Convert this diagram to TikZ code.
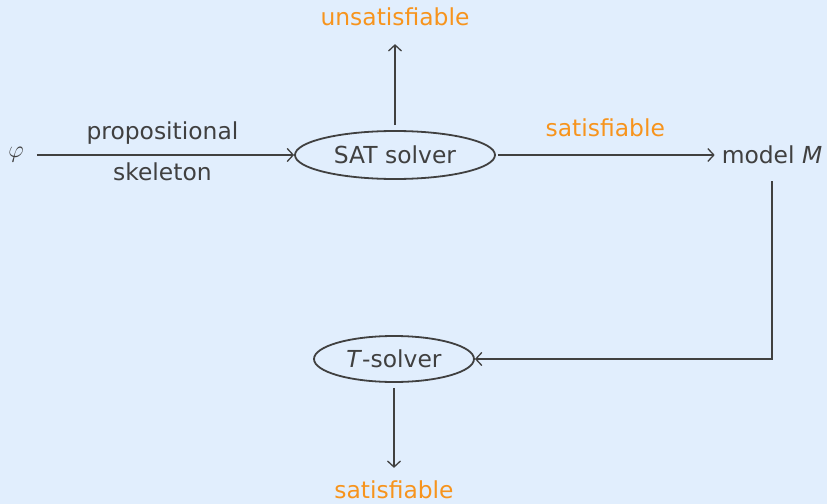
\documentclass[tikz,border=0pt]{standalone}
\usepackage{fontspec}
\setmainfont{DejaVu Sans}
\usepackage{tikz}
\usetikzlibrary{arrows.meta,shapes}

\definecolor{bgblue}{HTML}{E1EEFD}
\definecolor{ink}{HTML}{404040}
\definecolor{hilite}{HTML}{F7941D}

\begin{document}
\begin{tikzpicture}[x=0.5pt,y=-0.5pt,
    >={Straight Barb[length=3pt,width=6.5pt]},
    every node/.style={text=ink,font=\fontsize{11.7}{14}\selectfont},
    solver/.style={ellipse,draw=ink,line width=0.9pt,minimum width=100pt,minimum height=24pt,inner sep=0pt},
    result/.style={text=hilite},
    flow/.style={->,draw=ink,line width=0.65pt}
   ]
  \fill[bgblue] (0,0) rectangle (827,504);
  \useasboundingbox (0,0) rectangle (827,504);

  \node (phi) at (16,155) {$\varphi$};
  \node[solver] (sat) at (395,155) {SAT solver};
  \node[result] (unsat) at (395,17) {unsatisfiable};
  \node (model) at (772,155) {model \textit{M}};
  \node[solver,minimum width=80pt,minimum height=23pt] (tsolver) at (394,359) {\textit{T}-solver};
  \node[result] (tsat) at (394,490) {satisfiable};

  \draw[flow,shorten <=3pt] (phi) -- node[above=1.5pt] (prop) {propositional}
    node[below] (skel) {skeleton} (sat);
  \draw[flow,shorten <=1pt] (sat) -- node[result,above=5.5pt] (satyes) {satisfiable} (model);
  \draw[flow,shorten <=2.5pt,shorten >=5.5pt] (sat) -- (unsat);
  \draw[flow,shorten <=5pt] (model) |- (tsolver);
  \draw[flow,shorten <=2.5pt,shorten >=3pt] (tsolver) -- (tsat);
\end{tikzpicture}
\end{document}
